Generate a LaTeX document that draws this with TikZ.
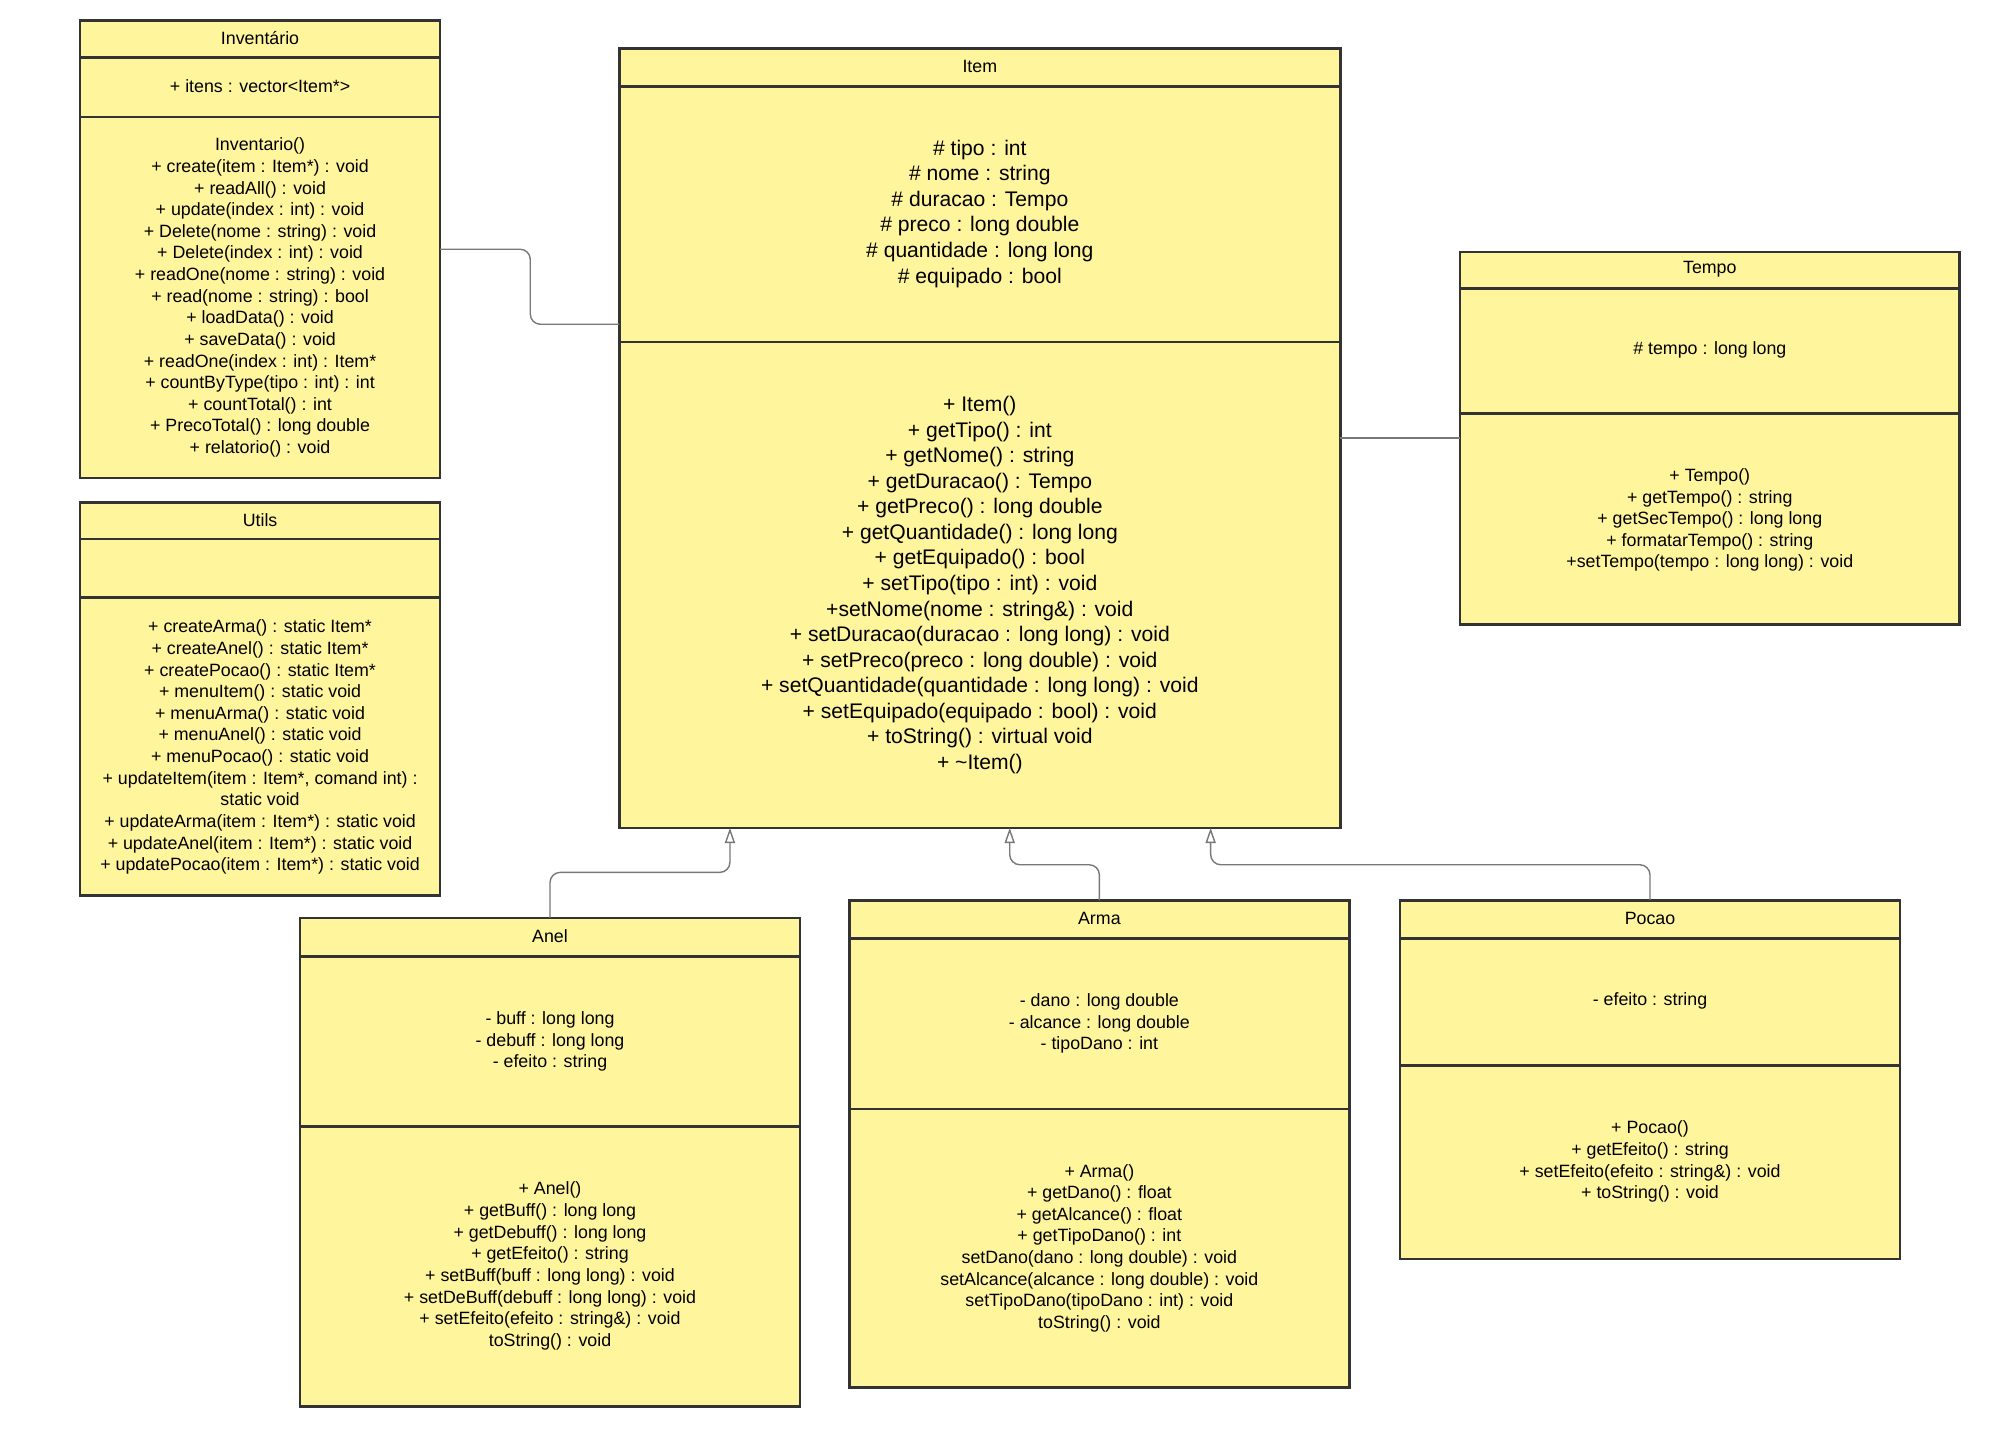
\documentclass[tikz,border=0pt]{standalone}
\usepackage{fontspec}
\setmainfont{Liberation Sans}
\usetikzlibrary{arrows.meta}
\definecolor{clsfill}{RGB}{255,245,157}
\definecolor{clsline}{RGB}{51,51,51}
\definecolor{conn}{RGB}{120,120,120}
\begin{document}
\begin{tikzpicture}[x=1pt,y=-1pt,
  cls/.style={draw=clsline, fill=clsfill, line width=2pt, inner sep=0pt, outer sep=0pt, rectangle},
  sep/.style={draw=clsline, line width=2pt},
  txt/.style={align=center, inner sep=0pt, yshift=-1pt, font=\fontsize{14}{17}\selectfont},
  bigtxt/.style={align=center, inner sep=0pt, yshift=-1pt, font=\fontsize{16.6}{20.1}\selectfont},
  assoc/.style={draw=conn, line width=1.1pt, rounded corners=8pt},
  inh/.style={draw=conn, line width=1.1pt, rounded corners=8pt, -{Triangle[open, width=8pt, length=12pt]}}
]
\useasboundingbox (0,0) rectangle (1568,1130);

% ---------- Inventario ----------
\node[cls, minimum width=283pt, minimum height=360pt] (inv) at (204.5,196) {};
\draw[sep] (inv.west |- 0,45) -- (inv.east |- 0,45);
\draw[sep] (inv.west |- 0,92) -- (inv.east |- 0,92);
\node[txt] (invT) at (204.5,29) {Inventário};
\node[txt] (invA) at (204.5,67) {+ itens : vector<Item*>};
\node[txt] (invM) at (204.5,233) {Inventario()\\
+ create(item : Item*) : void\\
+ readAll() : void\\
+ update(index : int) : void\\
+ Delete(nome : string) : void\\
+ Delete(index : int) : void\\
+ readOne(nome : string) : void\\
+ read(nome : string) : bool\\
+ loadData() : void\\
+ saveData() : void\\
+ readOne(index : int) : Item*\\
+ countByType(tipo : int) : int\\
+ countTotal() : int\\
+ PrecoTotal() : long double\\
+ relatorio() : void};

% ---------- Utils ----------
\node[cls, minimum width=283pt, minimum height=309pt] (utl) at (204.5,549.5) {};
\draw[sep] (utl.west |- 0,424) -- (utl.east |- 0,424);
\draw[sep] (utl.west |- 0,470) -- (utl.east |- 0,470);
\node[txt] (utlT) at (204.5,408) {Utils};
\node[txt] (utlM) at (204.5,586.5) {+ createArma() : static Item*\\
+ createAnel() : static Item*\\
+ createPocao() : static Item*\\
+ menuItem() : static void\\
+ menuArma() : static void\\
+ menuAnel() : static void\\
+ menuPocao() : static void\\
+ updateItem(item : Item*, comand int) :\\
static void\\
+ updateArma(item : Item*) : static void\\
+ updateAnel(item : Item*) : static void\\
+ updatePocao(item : Item*) : static void};

% ---------- Item ----------
\node[cls, minimum width=567pt, minimum height=613pt] (item) at (770.5,344.5) {};
\draw[sep] (item.west |- 0,68) -- (item.east |- 0,68);
\draw[sep] (item.west |- 0,269) -- (item.east |- 0,269);
\node[txt] (itemT) at (770.5,51) {Item};
\node[bigtxt] (itemA) at (770.5,167) {\# tipo : int\\
\# nome : string\\
\# duracao : Tempo\\
\# preco : long double\\
\# quantidade : long long\\
\# equipado : bool};
\node[bigtxt] (itemM) at (770.5,459) {+ Item()\\
+ getTipo() : int\\
+ getNome() : string\\
+ getDuracao() : Tempo\\
+ getPreco() : long double\\
+ getQuantidade() : long long\\
+ getEquipado() : bool\\
+ setTipo(tipo : int) : void\\
+setNome(nome : string\&) : void\\
+ setDuracao(duracao : long long) : void\\
+ setPreco(preco : long double) : void\\
+ setQuantidade(quantidade : long long) : void\\
+ setEquipado(equipado : bool) : void\\
+ toString() : virtual void\\
+ \textasciitilde Item()};

% ---------- Tempo ----------
\node[cls, minimum width=393pt, minimum height=293pt] (tmp) at (1344.5,344.5) {};
\draw[sep] (tmp.west |- 0,227) -- (tmp.east |- 0,227);
\draw[sep] (tmp.west |- 0,325) -- (tmp.east |- 0,325);
\node[txt] (tmpT) at (1344.5,211) {Tempo};
\node[txt] (tmpA) at (1344.5,274) {\# tempo : long long};
\node[txt] (tmpM) at (1344.5,408) {+ Tempo()\\
+ getTempo() : string\\
+ getSecTempo() : long long\\
+ formatarTempo() : string\\
+setTempo(tempo : long long) : void};

% ---------- Anel ----------
\node[cls, minimum width=393pt, minimum height=384pt] (anel) at (432.5,914) {};
\draw[sep] (anel.west |- 0,752) -- (anel.east |- 0,752);
\draw[sep] (anel.west |- 0,886) -- (anel.east |- 0,886);
\node[txt] (anelT) at (432.5,735) {Anel};
\node[txt] (anelA) at (432.5,818) {- buff : long long\\
- debuff : long long\\
- efeito : string};
\node[txt] (anelM) at (432.5,994.5) {+ Anel()\\
+ getBuff() : long long\\
+ getDebuff() : long long\\
+ getEfeito() : string\\
+ setBuff(buff : long long) : void\\
+ setDeBuff(debuff : long long) : void\\
+ setEfeito(efeito : string\&) : void\\
toString() : void};

% ---------- Arma ----------
\node[cls, minimum width=393pt, minimum height=383pt] (arma) at (864.5,899.5) {};
\draw[sep] (arma.west |- 0,738) -- (arma.east |- 0,738);
\draw[sep] (arma.west |- 0,872) -- (arma.east |- 0,872);
\node[txt] (armaT) at (864.5,721) {Arma};
\node[txt] (armaA) at (864.5,804) {- dano : long double\\
- alcance : long double\\
- tipoDano : int};
\node[txt] (armaM) at (864.5,980.5) {+ Arma()\\
+ getDano() : float\\
+ getAlcance() : float\\
+ getTipoDano() : int\\
setDano(dano : long double) : void\\
setAlcance(alcance : long double) : void\\
setTipoDano(tipoDano : int) : void\\
toString() : void};

% ---------- Pocao ----------
\node[cls, minimum width=393pt, minimum height=282pt] (pocao) at (1297.5,849) {};
\draw[sep] (pocao.west |- 0,738) -- (pocao.east |- 0,738);
\draw[sep] (pocao.west |- 0,838) -- (pocao.east |- 0,838);
\node[txt] (pocaoT) at (1297.5,721) {Pocao};
\node[txt] (pocaoA) at (1297.5,786) {- efeito : string};
\node[txt] (pocaoM) at (1297.5,912.5) {+ Pocao()\\
+ getEfeito() : string\\
+ setEfeito(efeito : string\&) : void\\
+ toString() : void};

% ---------- Connectors ----------
\draw[assoc] (inv.east) -- (417,196) |- (item.west |- 0,255);
\draw[assoc] (item.east) -- (tmp.west);
\draw[inh] (anel.north) |- (574,686) -- (item.south -| 574,0);
\draw[inh] (arma.north) |- (794,680) -- (item.south -| 794,0);
\draw[inh] (pocao.north) |- (952,680) -- (item.south -| 952,0);
\end{tikzpicture}
\end{document}
